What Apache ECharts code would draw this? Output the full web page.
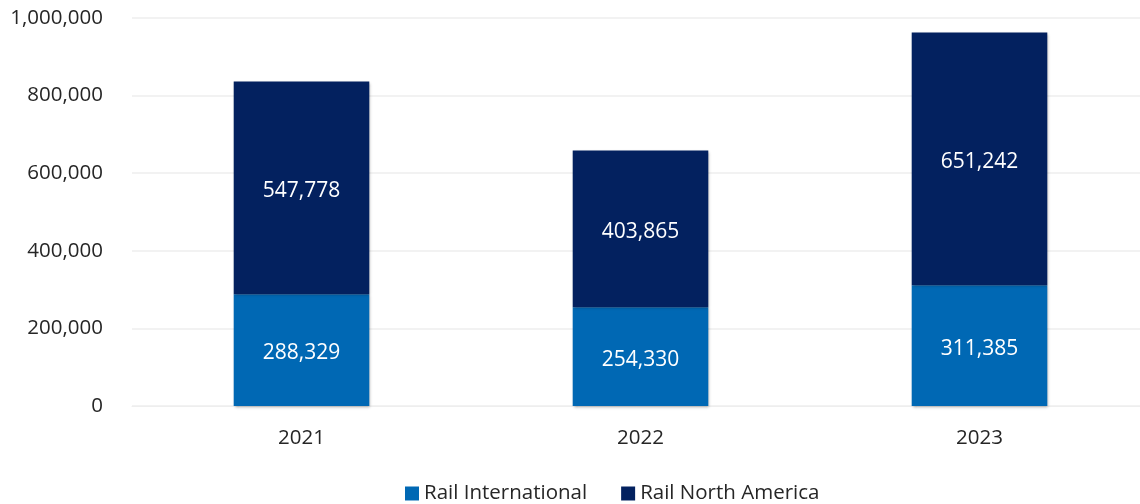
<!DOCTYPE html>
<html><head><meta charset="utf-8">
<script src="https://cdn.jsdelivr.net/npm/echarts@6/dist/echarts.min.js"></script>
<style>html,body{margin:0;padding:0;background:#fff}#c{width:1140px;height:504px}</style>
</head><body><div id="c"></div>
<script>
const categories = ['2021', '2022', '2023'];
const railInternational = [288329, 254330, 311385];
const railNorthAmerica = [547778, 403865, 651242];
const yTicks = { min: 0, max: 1000000, interval: 200000 };

const font = '"Open Sans", "Noto Sans", sans-serif';
const chart = echarts.init(document.getElementById('c'));
const fmt = v => v.toLocaleString('en-US');
const shadow = { shadowColor: 'rgba(0,0,0,0.35)', shadowBlur: 3, shadowOffsetX: 1, shadowOffsetY: 1 };
chart.setOption({
  animation: false,
  grid: { left: 132, width: 1017, top: 18, bottom: 98, outerBoundsMode: 'none', containLabel: false },
  legend: {
    left: 400, top: 478, itemWidth: 14, itemHeight: 14, itemGap: 34,
    icon: 'rect',
    textStyle: { fontFamily: font, fontSize: 20.5, color: '#262626' },
    data: ['Rail International', 'Rail North America']
  },
  xAxis: {
    type: 'category', data: categories,
    axisLine: { show: true, lineStyle: { color: '#eeeeee', width: 1 } },
    axisTick: { show: false },
    axisLabel: { fontFamily: font, fontSize: 20.5, color: '#262626', margin: 22 }
  },
  yAxis: {
    type: 'value', min: yTicks.min, max: yTicks.max, interval: yTicks.interval,
    axisLine: { show: false }, axisTick: { show: false },
    splitLine: { lineStyle: { color: '#eeeeee', width: 1.5 } },
    axisLabel: { fontFamily: font, fontSize: 20.5, color: '#262626', margin: 29, formatter: fmt }
  },
  series: [
    {
      name: 'Rail International', type: 'bar', stack: 'total', data: railInternational,
      barWidth: '40%',
      itemStyle: Object.assign({ color: '#0068B4' }, shadow),
      label: { show: true, position: 'inside', offset: [0, 3], color: '#ffffff', fontFamily: font, fontSize: 21, formatter: p => fmt(p.value) }
    },
    {
      name: 'Rail North America', type: 'bar', stack: 'total', data: railNorthAmerica,
      barWidth: '40%',
      itemStyle: Object.assign({ color: '#03215F' }, shadow),
      label: { show: true, position: 'inside', offset: [0, 3], color: '#ffffff', fontFamily: font, fontSize: 21, formatter: p => fmt(p.value) }
    }
  ]
});
</script></body></html>
